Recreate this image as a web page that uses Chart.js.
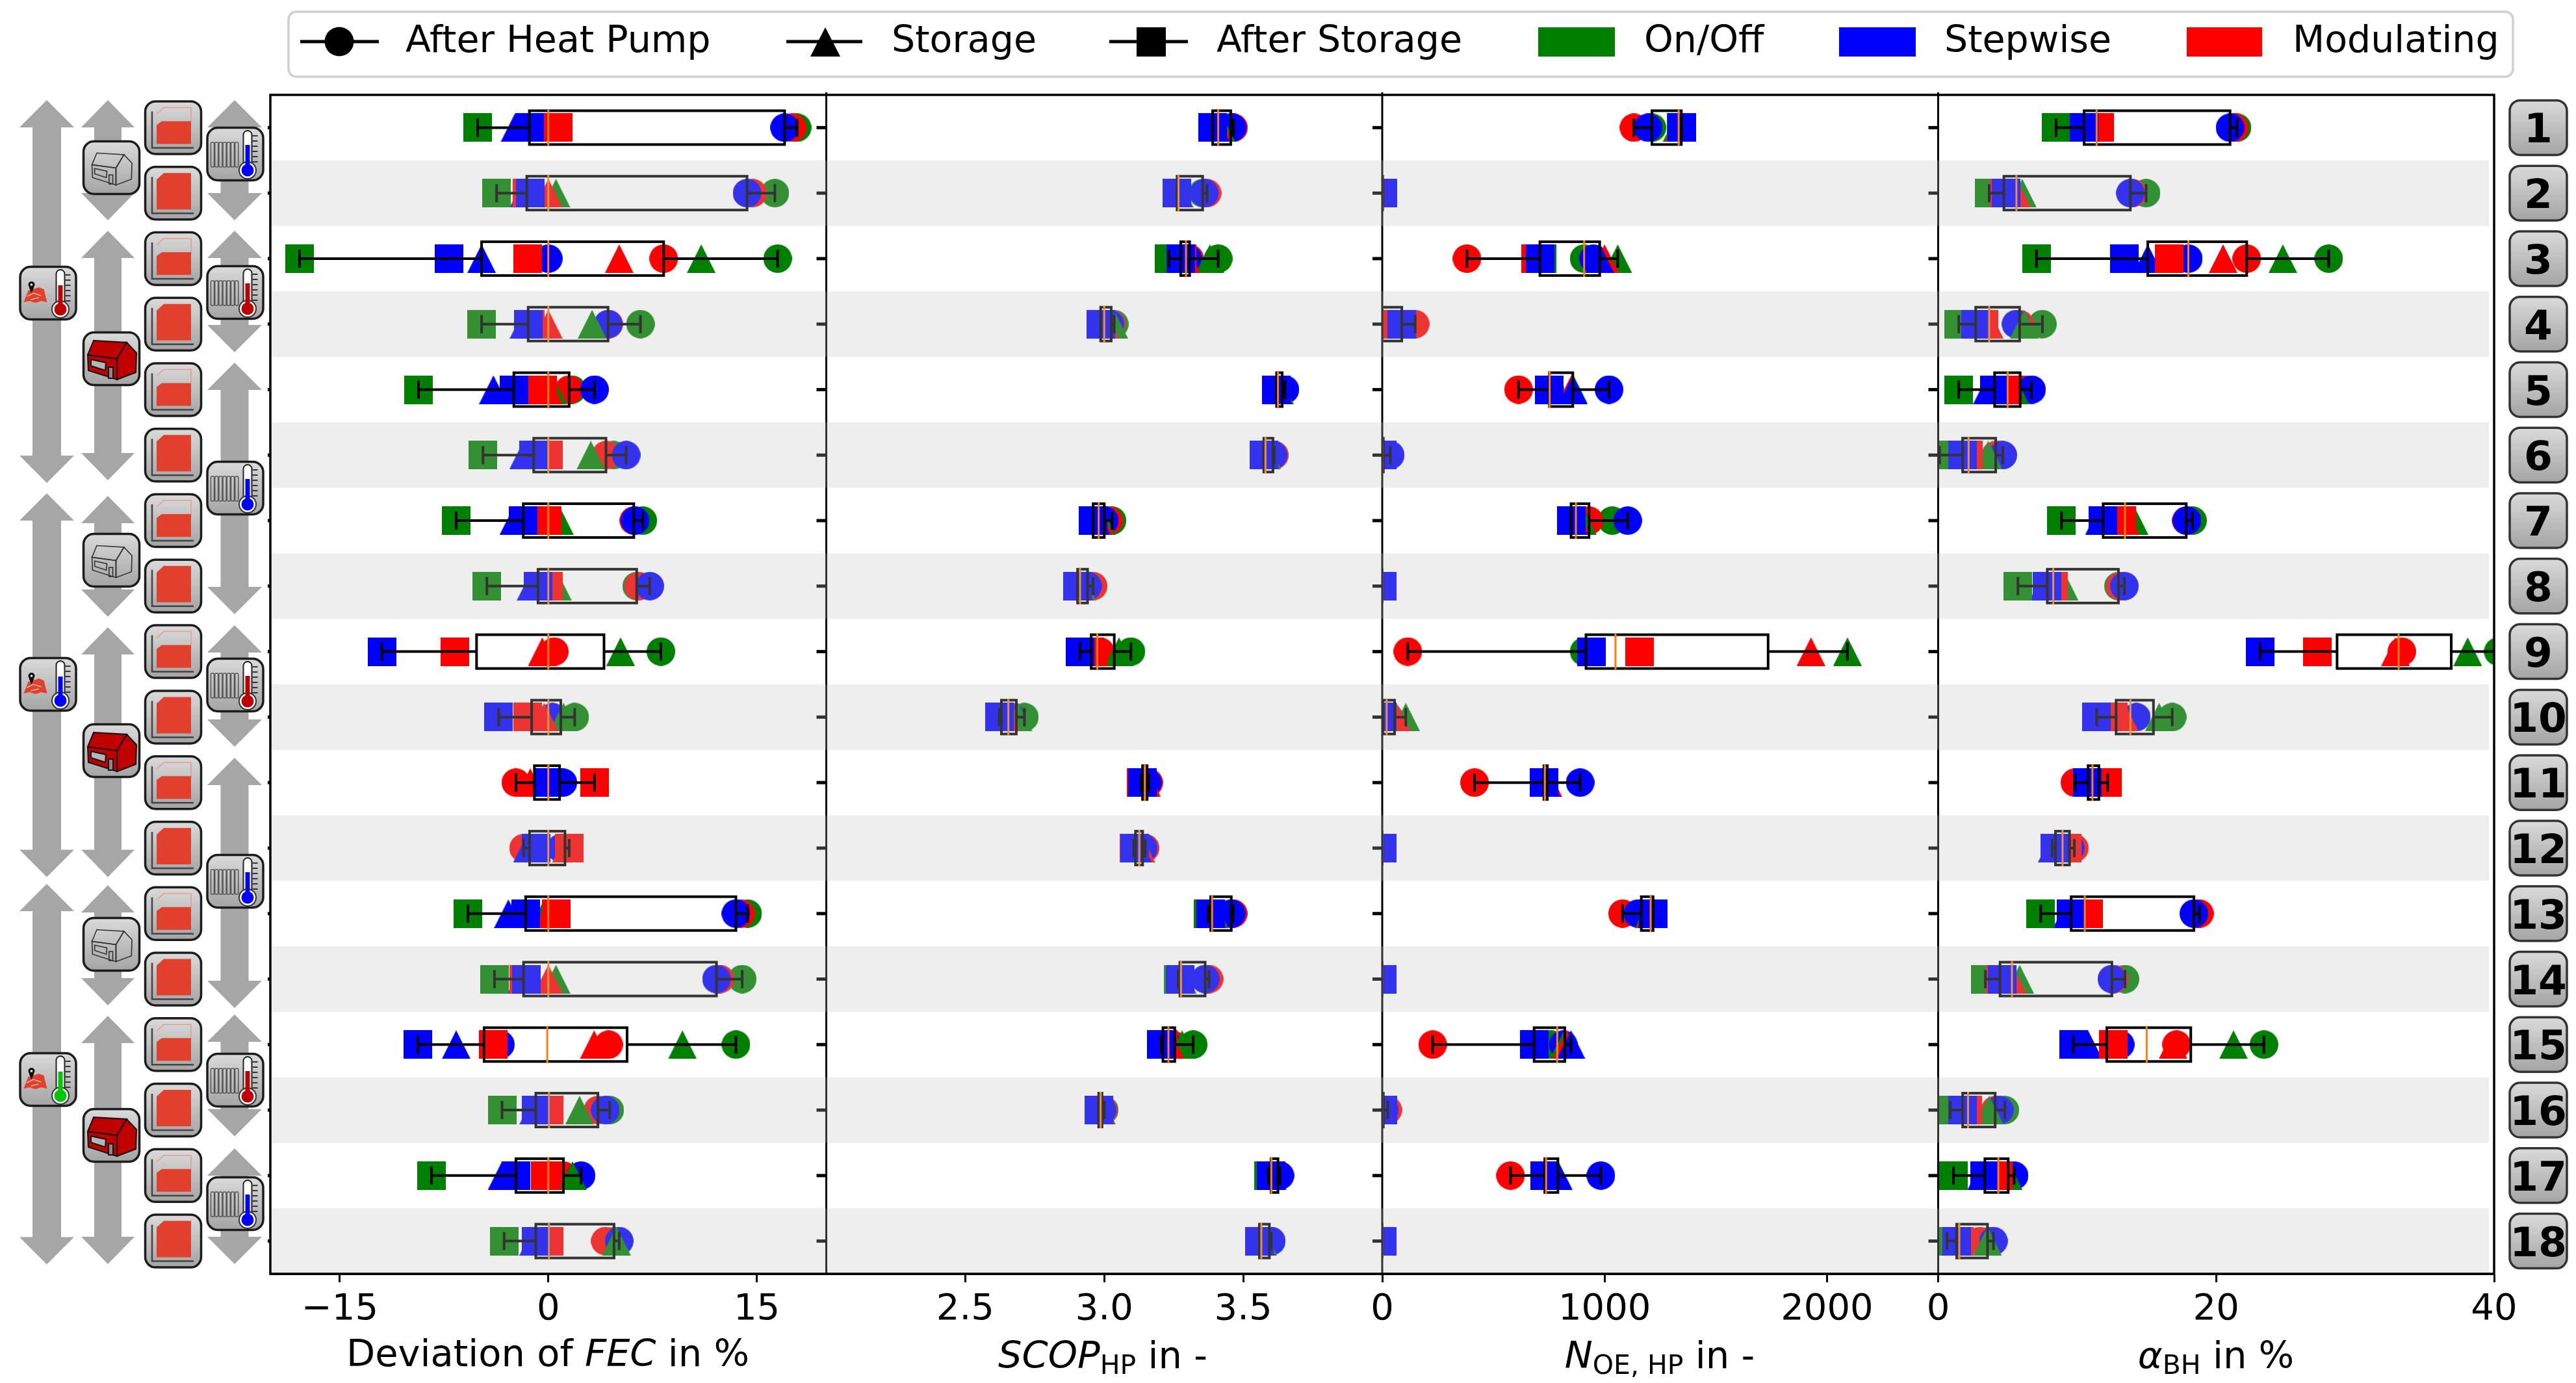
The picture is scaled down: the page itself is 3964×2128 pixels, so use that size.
<!DOCTYPE html>
<html>
<head>
  <meta charset="utf-8">
  <title>Building configurations</title>
  <script src="https://cdn.jsdelivr.net/npm/chart.js@4"></script>
  <style>
    body { margin: 0; background: #fff; }
    #wrap { position: relative; width: 3964px; height: 2128px; }
    #chart, #overlay { position: absolute; left: 0; top: 0; }
  </style>
</head>
<body>
<div id="wrap">
  <canvas id="chart" width="3964" height="2128"></canvas>
  <svg id="overlay" width="3964" height="2128" xmlns="http://www.w3.org/2000/svg"></svg>
</div>

<script>
  const rows = [1, 2, 3, 4, 5, 6, 7, 8, 9, 10, 11, 12, 13, 14, 15, 16, 17, 18];

  // Deviation of FEC in %
  const fecTicks = [-15, 0, 15];
  const fecTickLabels = ['\u221215', '0', '15'];
  const fecHpOnOff = [17.9, 16.3, 16.5, 6.63, 1.7, 4.7, 6.8, 6.36, 8.1, 1.9, null, null, 14.34, 13.95, 13.5, 4.42, 0.8, 4.73];
  const fecHpMod = [17.55, 14.7, 8.3, 4.35, 1.5, 4.15, 6.15, 6.5, 0.43, null, -2.33, -1.78, 13.84, 12.36, 4.34, 3.57, 1.09, 4.1];
  const fecHpStep = [17.0, 14.3, 0, 4.3, 3.33, 5.6, 6.25, 7.3, null, 0.3, 1.05, 0.9, 13.5, 12.1, -3.45, 4.1, 2.36, 5.1];
  const fecStOnOff = [-0.4, 0.55, 11.0, 3.15, 0.3, 3.06, 0.8, 0.65, 5.2, 1.1, null, null, -0.3, 0.55, 9.65, 2.25, 1.74, 4.9];
  const fecStMod = [0, 0, 5.1, 0, 0, -0.3, 0, -0.2, -0.43, -0.3, -1.3, 1.3, 0, 0, 3.3, -0.1, 0, -0.1];
  const fecStStep = [-2.4, -1.75, -4.8, -1.75, -3.95, -1.78, -2.48, -1.24, null, null, -0.1, -1.5, -2.87, -1.9, -6.63, -1.05, -3.33, -1.05];
  const fecAsOnOff = [-5.08, -3.72, -17.9, -4.8, -9.34, -4.7, -6.63, -4.42, null, null, null, null, -5.78, -3.87, null, -3.33, -8.41, -3.18];
  const fecAsMod = [0.73, -1.55, -1.5, -1.3, -0.4, 0, -0.1, 0, -6.74, -1.5, 3.33, 1.5, 0.58, -1.78, -3.95, 0.05, -0.2, 0.05];
  const fecAsStep = [-1.36, -1.3, -7.13, -1.45, -2.48, -1.05, -1.8, -0.74, -11.98, -3.57, 0.1, -0.9, -1.63, -1.6, -9.38, -0.9, -2.33, -0.9];

  // SCOP HP
  const scopTicks = [2.5, 3.0, 3.5];
  const scopTickLabels = ['2.5', '3.0', '3.5'];
  const scopHpOnOff = [3.455, 3.354, 3.41, 3.036, 3.645, 3.61, 3.028, 2.95, 3.096, 2.713, null, null, 3.46, 3.37, 3.32, 3.0, 3.628, 3.597];
  const scopHpMod = [3.465, 3.37, 3.307, 3.025, 3.64, 3.612, 3.015, 2.96, 2.985, null, 3.16, 3.147, 3.464, 3.377, 3.245, 2.996, 3.625, 3.594];
  const scopHpStep = [3.46, 3.36, 3.3, 3.02, 3.65, 3.607, 3.0, 2.94, null, 2.665, 3.155, 3.14, 3.457, 3.363, 3.225, 2.992, 3.632, 3.601];
  const scopStOnOff = [3.42, 3.27, 3.38, 3.034, 3.63, 3.585, 2.99, 2.92, 3.053, 2.69, null, null, 3.395, 3.28, 3.28, 2.99, 3.605, 3.57];
  const scopStMod = [3.41, 3.267, 3.294, 3.0, 3.625, 3.58, 2.98, 2.913, 2.965, 2.645, 3.152, 3.132, 3.388, 3.276, 3.237, 2.987, 3.601, 3.565];
  const scopStStep = [3.4, 3.266, 3.26, 2.99, 3.623, 3.577, 2.97, 2.908, null, null, 3.14, 3.12, 3.385, 3.274, 3.208, 2.982, 3.6, 3.562];
  const scopAsOnOff = [3.39, 3.262, 3.233, 2.987, 3.62, 3.574, 2.96, 2.904, null, null, null, null, 3.374, 3.266, null, 2.98, 3.59, 3.558];
  const scopAsMod = [3.39, 3.262, 3.28, 2.987, 3.62, 3.574, 2.96, 2.904, 2.949, 2.625, 3.133, 3.106, 3.383, 3.272, 3.212, 2.98, 3.6, 3.558];
  const scopAsStep = [3.39, 3.262, 3.275, 2.987, 3.62, 3.574, 2.96, 2.904, 2.913, 2.622, 3.137, 3.11, 3.383, 3.272, 3.205, 2.98, 3.6, 3.558];

  // N OE,HP
  const noeTicks = [0, 1000, 2000];
  const noeTickLabels = ['0', '1000', '2000'];
  const noeHpOnOff = [1213, 1, 908, 0, 753, 5, 1034, 0, 908, 30, null, null, 1165, 0, 760, 5, 737, 0];
  const noeHpMod = [1132, 2, 381, 148, 613, 20, 930, 0, 115, null, 415, 0, 1081, 0, 227, 25, 577, 0];
  const noeHpStep = [1196, 2, 950, 50, 1020, 36, 1104, 0, null, 10, 890, 0, 1150, 0, 814, 8, 983, 0];
  const noeStOnOff = [1325, 0, 1059, 0, 860, 0, 900, 0, 2092, 106, null, null, 1200, 0, 818, 0, 792, 0];
  const noeStMod = [1333, 0, 1000, 0, 850, 0, 871, 0, 1928, 64, 745, 0, 1207, 0, 830, 0, 770, 0];
  const noeStStep = [1342, 0, 978, 92, 857, 0, 860, 0, null, null, 735, 0, 1216, 0, 849, 0, 790, 0];
  const noeAsOnOff = [1345, 0, 720, 0, 752, 0, 849, 0, null, null, null, null, 1218, 0, null, 0, 731, 0];
  const noeAsMod = [1347, 0, 690, 0, 752, 0, 849, 0, 1157, 0, 727, 0, 1219, 0, 683, 0, 731, 0];
  const noeAsStep = [1347, 3, 709, 88, 752, 0, 849, 0, 941, 0, 727, 0, 1219, 0, 683, 2, 731, 0];

  // alpha BH in %
  const bhTicks = [0, 20, 40];
  const bhTickLabels = ['0', '20', '40'];
  const bhHpOnOff = [21.5, 14.96, 28.1, 7.5, 6.2, 4.4, 18.3, 12.97, 40.3, 16.84, null, null, 18.7, 13.44, 23.44, 4.8, 4.8, 3.7];
  const bhHpMod = [21.3, 13.98, 22.2, 5.86, 5.9, 4.14, 17.85, 13.1, 33.36, null, 9.84, 9.8, 18.8, 12.65, 17.15, 4.1, 5.04, 3.0];
  const bhHpStep = [21.0, 13.83, 18.0, 5.6, 6.72, 4.65, 17.9, 13.4, null, 14.26, 11.65, 9.5, 18.4, 12.5, 13.1, 4.4, 5.47, 3.98];
  const bhStOnOff = [11.1, 6.05, 24.8, 6.2, 5.5, 3.6, 14.1, 9.06, 38.1, 15.9, null, null, 10.2, 5.86, 21.25, 3.67, 5.04, 3.55];
  const bhStMod = [11.4, 5.63, 20.5, 3.67, 4.6, 2.0, 13.44, 8.1, 32.9, 13.4, 11.3, 8.6, 10.55, 5.31, 16.9, 2.0, 4.2, 1.45];
  const bhStStep = [10.2, 4.5, 15.08, 2.35, 3.55, 1.4, 11.6, 7.6, null, null, 10.9, 8.2, 9.3, 4.2, 10.78, 1.5, 3.13, 1.0];
  const bhAsOnOff = [8.48, 3.67, 7.07, 1.48, 1.48, 0.1, 8.87, 5.74, null, null, null, null, 7.38, 3.4, null, 0.86, 1.1, 0.63];
  const bhAsMod = [11.64, 4.73, 16.64, 3.3, 5.0, 2.19, 13.2, 8.28, 27.3, 12.6, 12.2, 9.3, 10.82, 4.45, 12.58, 2.15, 4.33, 1.52];
  const bhAsStep = [10.5, 4.9, 13.4, 2.7, 4.06, 1.76, 11.87, 7.85, 23.16, 11.4, 10.75, 8.39, 9.57, 4.6, 9.73, 1.76, 3.36, 1.33];

  const FONT = 'DejaVu Sans';
  const GREEN = '#008000', RED = '#ff0000', BLUE = '#0000ff';

  // drawn bottom to top: circles, triangles, squares, each green, red, blue
  const shapes = ['circle', 'circle', 'circle', 'triangle', 'triangle', 'triangle', 'square', 'square', 'square'];
  const colors = [GREEN, RED, BLUE, GREEN, RED, BLUE, GREEN, RED, BLUE];

  const panels = [
    { id: 'xFec', min: -20, max: 20, ticks: fecTicks, labels: fecTickLabels,
      series: [fecHpOnOff, fecHpMod, fecHpStep, fecStOnOff, fecStMod, fecStStep, fecAsOnOff, fecAsMod, fecAsStep] },
    { id: 'xScop', min: 2, max: 4, ticks: scopTicks, labels: scopTickLabels,
      series: [scopHpOnOff, scopHpMod, scopHpStep, scopStOnOff, scopStMod, scopStStep, scopAsOnOff, scopAsMod, scopAsStep] },
    { id: 'xNoe', min: 0, max: 2500, ticks: noeTicks, labels: noeTickLabels,
      series: [noeHpOnOff, noeHpMod, noeHpStep, noeStOnOff, noeStMod, noeStStep, noeAsOnOff, noeAsMod, noeAsStep] },
    { id: 'xBh', min: 0, max: 40, ticks: bhTicks, labels: bhTickLabels,
      series: [bhHpOnOff, bhHpMod, bhHpStep, bhStOnOff, bhStMod, bhStStep, bhAsOnOff, bhAsMod, bhAsStep] }
  ];

  function makeMarker(shape, color) {
    const size = 44;
    const c = document.createElement('canvas');
    c.width = size;
    c.height = size;
    const g = c.getContext('2d');
    g.fillStyle = color;
    g.beginPath();
    if (shape === 'circle') g.arc(size / 2, size / 2, size / 2, 0, Math.PI * 2);
    if (shape === 'square') g.rect(0, 0, size, size);
    if (shape === 'triangle') { g.moveTo(size / 2, 0); g.lineTo(size, size); g.lineTo(0, size); g.closePath(); }
    g.fill();
    return c;
  }

  function quantile(sorted, q) {
    const p = (sorted.length - 1) * q;
    const lo = Math.floor(p), hi = Math.ceil(p);
    return sorted[lo] + (sorted[hi] - sorted[lo]) * (p - lo);
  }

  function line(ctx, x1, y1, x2, y2) {
    ctx.beginPath();
    ctx.moveTo(x1, y1);
    ctx.lineTo(x2, y2);
    ctx.stroke();
  }

  let datasets = [];
  panels.forEach(panel => {
    panel.series.forEach((values, s) => {
      datasets.push({
        xAxisID: panel.id,
        yAxisID: 'y',
        clip: 0,
        data: values.map((v, i) => ({ x: v, y: rows[i] })).filter(p => p.x !== null),
        pointStyle: makeMarker(shapes[s], colors[s]),
        pointRadius: 22,
        pointBorderWidth: 0
      });
    });
  });
  // chart.js paints the first dataset last
  datasets = datasets.reverse();

  const scales = {
    y: { type: 'linear', min: 0.5, max: 18.5, reverse: true, display: false }
  };
  panels.forEach(panel => {
    scales[panel.id] = {
      type: 'linear',
      position: 'bottom',
      stack: 'panels',
      stackWeight: 1,
      min: panel.min,
      max: panel.max,
      afterBuildTicks: s => { s.ticks = panel.ticks.map(v => ({ value: v })); },
      afterFit: s => { s.height = 110; },
      border: { display: true, color: '#000', width: 3 },
      grid: { drawOnChartArea: false, drawTicks: true, tickLength: 13, tickWidth: 3, tickColor: '#000' },
      ticks: {
        autoSkip: false,
        maxRotation: 0,
        minRotation: 0,
        padding: 9,
        color: '#000',
        font: { family: FONT, size: 56 },
        callback: (v, i) => panel.labels[i]
      }
    };
  });

  const boxPlugin = {
    id: 'boxes',
    afterDatasetsDraw(chart) {
      const ctx = chart.ctx;
      const y = chart.scales.y;
      const first = chart.scales[panels[0].id];
      const last = chart.scales[panels[3].id];
      ctx.save();

      // boxes, whiskers and medians from the values of each row
      panels.forEach(panel => {
        const x = chart.scales[panel.id];
        ctx.save();
        ctx.beginPath();
        ctx.rect(x.left, y.top, x.right - x.left, y.bottom - y.top);
        ctx.clip();
        rows.forEach((row, i) => {
          const vals = panel.series.map(s => s[i]).filter(v => v !== null).sort((a, b) => a - b);
          const px = v => x.getPixelForValue(v);
          const q1 = px(quantile(vals, 0.25)), med = px(quantile(vals, 0.5)), q3 = px(quantile(vals, 0.75));
          const lo = px(vals[0]), hi = px(vals[vals.length - 1]);
          const c = y.getPixelForValue(row);
          ctx.strokeStyle = '#000';
          ctx.lineWidth = 4;
          line(ctx, lo, c, q1, c);
          line(ctx, q3, c, hi, c);
          line(ctx, lo, c - 14, lo, c + 14);
          line(ctx, hi, c - 14, hi, c + 14);
          ctx.strokeRect(q1, c - 26, q3 - q1, 52);
          ctx.strokeStyle = '#ff7f0e';
          ctx.lineWidth = 3;
          line(ctx, med, c - 28, med, c + 28);
        });
        ctx.restore();
      });

      // row ticks and the lines between the panels
      ctx.strokeStyle = '#000';
      panels.forEach((panel, p) => {
        const x = chart.scales[panel.id];
        ctx.lineWidth = 5;
        rows.forEach(row => {
          const c = y.getPixelForValue(row);
          line(ctx, x.left - (p === 0 ? 4 : 15), c, x.left, c);
        });
        if (p > 0) {
          ctx.lineWidth = 3;
          line(ctx, x.left, y.top - 4, x.left, y.bottom + 2);
        }
      });

      // the even row bands lie over everything in the plot
      ctx.fillStyle = 'rgba(191, 191, 191, 0.267)';
      rows.filter(r => r % 2 === 0).forEach(row => {
        const top = y.getPixelForValue(row - 0.5);
        const bottom = y.getPixelForValue(row + 0.5);
        ctx.fillRect(first.left + 2, top, last.right - first.left - 10, bottom - top);
      });

      // frame
      ctx.lineWidth = 3.5;
      ctx.strokeRect(first.left, y.top, last.right - first.left, y.bottom - y.top);
      ctx.restore();
    }
  };

  const chart = new Chart(document.getElementById('chart'), {
    type: 'scatter',
    data: { datasets: datasets },
    options: {
      responsive: false,
      animation: false,
      layout: { padding: { left: 416, right: 126, top: 146, bottom: 58 } },
      plugins: { legend: { display: false }, tooltip: { enabled: false } },
      scales: scales
    },
    plugins: [boxPlugin]
  });

  // everything around the plot: legend, axis titles, row numbers and the icon columns
  function arrow(cx, top, bottom, head, shaft) {
    const h = 42;
    const pts = [[cx, top], [cx + head, top + h], [cx + shaft, top + h], [cx + shaft, bottom - h], [cx + head, bottom - h],
      [cx, bottom], [cx - head, bottom - h], [cx - shaft, bottom - h], [cx - shaft, top + h], [cx - head, top + h]];
    return `<polygon points="${pts.join(' ')}" fill="#a6a6a6"/>`;
  }

  function iconBase(cx, cy, inner) {
    return `<g transform="translate(${cx - 44.5},${cy - 42})">` +
      '<rect x="1.5" y="1.5" width="86" height="81" rx="16" fill="url(#btn)" stroke="#1c1c1c" stroke-width="3.5"/>' +
      inner + '</g>';
  }

  function curveIcon(cx, cy, full) {
    const axes = '<path d="M12 17V73H76" fill="none" stroke="#444" stroke-width="2.5"/>';
    if (full) {
      return iconBase(cx, cy, '<polygon points="19,21 30,11 72,11 72,67 19,67" fill="#e0402c"/>' + axes);
    }
    return iconBase(cx, cy,
      '<polyline points="19,21 30,11 72,11 72,32" fill="none" stroke="#e89a90" stroke-width="1.5"/>' +
      '<polygon points="19,38 27,32 72,32 72,67 19,67" fill="#e0402c"/>' + axes);
  }

  function thermometer(color, top) {
    let marks = '';
    [14, 22, 30, 38, 46, 54].forEach(t => { marks += `<line x1="71" y1="${t}" x2="79" y2="${t}" stroke="#333" stroke-width="2"/>`; });
    return marks +
      '<rect x="57" y="6" width="13" height="60" rx="6.5" fill="#fff" stroke="#222" stroke-width="2"/>' +
      '<circle cx="63.5" cy="67" r="13" fill="#fff" stroke="#333" stroke-width="2"/>' +
      `<rect x="60" y="${top}" width="7" height="${67 - top}" fill="${color}"/>` +
      `<circle cx="63.5" cy="67" r="9.5" fill="${color}"/>`;
  }

  function radiatorIcon(cx, cy, color, top) {
    let bars = '';
    for (let k = 0; k < 7; k++) bars += `<rect x="${7 + 6.2 * k}" y="24" width="5" height="38" rx="1.5" fill="none" stroke="#555" stroke-width="1.5"/>`;
    return iconBase(cx, cy, bars + thermometer(color, top));
  }

  function climateIcon(cx, cy, color, top) {
    return iconBase(cx, cy,
      '<polygon points="7,56 14,38 22,36 30,33 38,36 43,56 34,54 25,57 16,54" fill="#e0402c"/>' +
      '<path d="M12 47L22 42L34 46M18 52L30 49" fill="none" stroke="#f3b0a8" stroke-width="1.5"/>' +
      '<polygon points="15,33 23,33 19,42" fill="#111"/><circle cx="19" cy="29" r="5" fill="#111"/><circle cx="19" cy="29" r="1.8" fill="#fff"/>' +
      thermometer(color, top));
  }

  function houseIcon(cx, cy, red) {
    const fill = red ? '#c00000' : 'none';
    const stroke = red ? '#111' : '#333';
    const k = red ? 1 : 0.82;
    const shift = red ? 0 : 8;
    return iconBase(cx, cy, `<g transform="translate(${shift},${shift}) scale(${k})" fill="${fill}" stroke="${stroke}" stroke-width="2">` +
      '<polygon points="8,36 53,42 53,74 9,60"/><polygon points="8,36 17,14 68,17 53,42"/>' +
      '<polygon points="53,42 68,17 83,33 82,63 53,74"/>' +
      `<polygon points="13,43 36,48 35,60 13,53" fill="${red ? '#b5b5b5' : 'none'}"/>` +
      `<rect x="40" y="55" width="7" height="17" fill="${red ? '#8a8a8a' : 'none'}"/></g>`);
  }

  const outerArrows = [[154, 743], [759, 1349.5], [1360, 1945.5]];
  const houseArrows = [[154, 339], [355, 739], [763, 949], [965, 1349.5], [1362, 1547], [1563, 1945]];
  const radiatorArrows = [[154, 339], [355, 542], [558, 945], [962, 1149], [1166, 1551], [1561, 1748.5], [1767, 1945]];
  const climateIcons = [[451, '#c00000', 30], [1053, '#0000ff', 30], [1661, '#00c800', 30]];
  const houseIcons = [[258, false], [552, true], [862, false], [1155, true], [1453, false], [1747, true]];
  const radiatorIcons = [[237, '#0000ff', 28], [450, '#c00000', 28], [751, '#0000ff', 28], [1054, '#c00000', 28], [1356, '#0000ff', 28], [1662, '#c00000', 28], [1852, '#0000ff', 28]];

  let svg = '<defs><linearGradient id="btn" x1="0" y1="0" x2="0" y2="1">' +
    '<stop offset="0" stop-color="#dadada"/><stop offset="1" stop-color="#a4a4a4"/></linearGradient></defs>';

  svg += `<g font-family="${FONT}" font-size="57" fill="#000">`;

  // legend
  svg += '<rect x="444" y="18" width="3423" height="100" rx="12" fill="#fff" stroke="#d0d0d0" stroke-width="3.5"/>';
  svg += '<g stroke="#000" stroke-width="5"><line x1="462" y1="64" x2="583" y2="64"/><line x1="1210" y1="64" x2="1327" y2="64"/><line x1="1707" y1="64" x2="1828" y2="64"/></g>';
  svg += '<circle cx="522" cy="64" r="22.5" fill="#000"/><polygon points="1270,42 1293,87 1247,87" fill="#000"/><rect x="1749" y="42" width="45" height="45" fill="#000"/>';
  svg += `<rect x="2367" y="42" width="118" height="45" fill="${GREEN}"/><rect x="2830" y="42" width="118" height="45" fill="${BLUE}"/><rect x="3365" y="42" width="116" height="45" fill="${RED}"/>`;
  svg += '<text x="624" y="80">After Heat Pump</text><text x="1372" y="80">Storage</text><text x="1872" y="80">After Storage</text>' +
    '<text x="2530" y="80">On/Off</text><text x="2992" y="80">Stepwise</text><text x="3528" y="80">Modulating</text>';

  // axis titles
  svg += '<g font-size="57.5">';
  svg += '<text x="843" y="2102" text-anchor="middle">Deviation of <tspan font-style="italic">FEC</tspan> in %</text>';
  svg += '<text x="1697" y="2105" text-anchor="middle"><tspan font-style="italic">SCOP</tspan><tspan font-size="41" dy="9">HP</tspan><tspan dy="-9"> in -</tspan></text>';
  svg += '<text x="2554" y="2105" text-anchor="middle"><tspan font-style="italic">N</tspan><tspan font-size="41" dy="9">OE, HP</tspan><tspan dy="-9"> in -</tspan></text>';
  svg += '<text x="3410" y="2105" text-anchor="middle"><tspan font-style="italic">\u03b1</tspan><tspan font-size="41" dy="9">BH</tspan><tspan dy="-9"> in %</tspan></text>';
  svg += '</g></g>';

  // icon columns
  outerArrows.forEach(a => { svg += arrow(72, a[0], a[1], 42, 22); });
  houseArrows.forEach(a => { svg += arrow(166, a[0], a[1], 41, 21); });
  radiatorArrows.forEach(a => { svg += arrow(361, a[0], a[1], 42, 21.5); });
  climateIcons.forEach(c => { svg += climateIcon(74, c[0], c[1], c[2]); });
  houseIcons.forEach(h => { svg += houseIcon(171.5, h[0], h[1]); });
  rows.forEach(row => { svg += curveIcon(266.5, chart.scales.y.getPixelForValue(row), row % 2 === 0); });
  radiatorIcons.forEach(r => { svg += radiatorIcon(362, r[0], r[1], r[2]); });

  // row numbers
  rows.forEach(row => {
    const c = chart.scales.y.getPixelForValue(row);
    svg += `<rect x="3862" y="${c - 42}" width="88" height="84" rx="16" fill="url(#btn)" stroke="#333" stroke-width="3.5"/>`;
    svg += `<text x="3906" y="${c + 23}" text-anchor="middle" font-family="${FONT}" font-size="63" font-weight="bold" fill="#000">${row}</text>`;
  });

  document.getElementById('overlay').innerHTML = svg;
</script>
</body>
</html>
